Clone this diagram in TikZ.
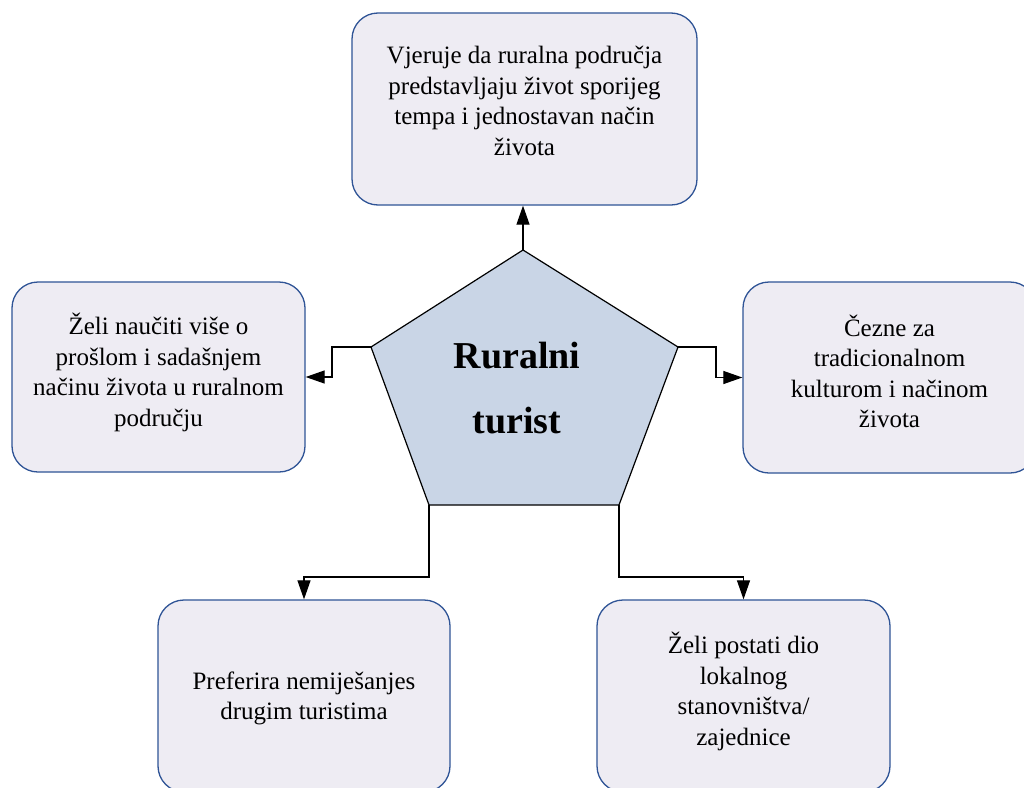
\documentclass[tikz,border=0pt]{standalone}
\usepackage{fontspec}
\setmainfont{Liberation Serif}
\usetikzlibrary{arrows.meta}
\definecolor{boxfill}{RGB}{238,236,243}
\definecolor{boxline}{RGB}{47,84,150}
\definecolor{pentfill}{RGB}{201,213,230}
\begin{document}
\begin{tikzpicture}[x=1pt,y=-1pt,
  infobox/.style={draw=boxline, fill=boxfill, line width=1.3pt, rounded corners=26pt, inner sep=0pt},
  boxtext/.style={align=center, font=\fontsize{25}{30.5}\selectfont, inner sep=0pt},
  conn/.style={draw=black, line width=1.2pt},
  arr/.style={conn, -{Triangle[length=19pt,width=13pt]}}]
\useasboundingbox (0,0) rectangle (1024,787);
\clip (0,0) rectangle (1024,787);
\fill[white] (0,0) rectangle (1024,787);

% boxes
\node[infobox, minimum width=345pt, minimum height=192pt,
  label={[boxtext, yshift=8pt]center:{Vjeruje da ruralna područja\\predstavljaju život sporijeg\\tempa i jednostavan način\\života}}]
  (top) at (524.5,109) {};
\node[infobox, minimum width=293pt, minimum height=190pt,
  label={[boxtext, yshift=4.5pt]center:{Želi naučiti više o\\prošlom i sadašnjem\\načinu života u ruralnom\\području}}]
  (left) at (158.5,377) {};
\node[infobox, minimum width=293pt, minimum height=191pt,
  label={[boxtext, yshift=6pt]center:{Čezne za\\tradicionalnom\\kulturom i načinom\\života}}]
  (right) at (889.5,377.5) {};
\node[infobox, minimum width=292pt, minimum height=192pt,
  label={[boxtext, yshift=-2.5pt]center:{Preferira nemiješanjes\\drugim turistima}}]
  (bl) at (304,696) {};
\node[infobox, minimum width=293pt, minimum height=192pt,
  label={[boxtext, yshift=4.5pt]center:{Želi postati dio\\lokalnog\\stanovništva/\\zajednice}}]
  (br) at (743.5,696) {};

% pentagon
\coordinate (pT) at (523,250);
\coordinate (pL) at (371,347);
\coordinate (pR) at (678,347);
\coordinate (pBL) at (429,505);
\coordinate (pBR) at (619,505);
\draw[fill=pentfill, line width=1.2pt, line join=miter] (pT)--(pR)--(pBR)--(pBL)--(pL)--cycle;
\node[font=\bfseries\fontsize{38}{65}\selectfont, align=center] (hub) at (517,388) {Ruralni\\turist};

% connectors
\draw[arr] (pT) -- (pT |- top.south);
\draw[arr] (pL) -- ++(-39,0) |- (left.east);
\draw[arr] (pR) -- ++(38,0) |- (right.west);
\draw[arr] (pBL) -- ++(0,72) -| (bl.north);
\draw[arr] (pBR) -- ++(0,72) -| (br.north);
\end{tikzpicture}
\end{document}
